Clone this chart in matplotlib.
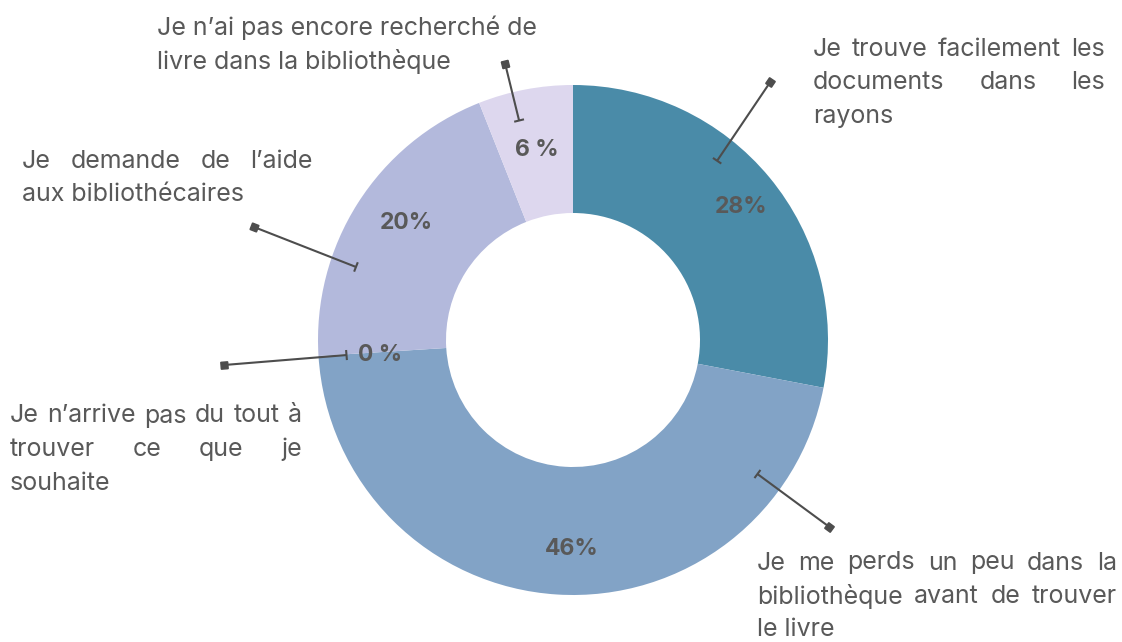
import matplotlib
matplotlib.use("Agg")
import matplotlib.pyplot as plt
import numpy as np

# ---- data ----
categories = [
    "Je trouve facilement les documents dans les rayons",
    "Je me perds un peu dans la bibliothèque avant de trouver le livre",
    "Je n’arrive pas du tout à trouver ce que je souhaite",
    "Je demande de l’aide aux bibliothécaires",
    "Je n’ai pas encore recherché de livre dans la bibliothèque",
]
values = [28, 46, 0, 20, 6]
pct_labels = ["28%", "46%", "0 %", "20%", "6 %"]
label_lines = [
    ["Je trouve facilement les", "documents dans les", "rayons"],
    ["Je me perds un peu dans la", "bibliothèque avant de trouver", "le livre"],
    ["Je n’arrive pas du tout à", "trouver ce que je", "souhaite"],
    ["Je demande de l’aide", "aux bibliothécaires"],
    ["Je n’ai pas encore recherché de", "livre dans la bibliothèque"],
]
colors = ["#4a8ba8", "#82a3c6", "#82a3c6", "#b3b9dc", "#ddd7ee"]

# ---- layout (pixels, y from top) ----
W, H = 1122, 642
CX, CY = 573, 340
R_OUT, R_IN = 255, 127
# text blocks: (x_left, x_right or None, first line center y)
blocks = [(813, 1105, 49), (757, 1117, 563), (10, 302, 416), (22, 313, 161), (157, None, 28)]
LINE_H = 33.5
pct_pos = [(0.84, -1.2), (0.82, 3.3), (0.76, 0.9), (0.80, -2.7), (0.76, 0.0)]
leaders = [((51.2, 230), (52.6, 325)), ((-36.0, 228), (-36.1, 317)),
           ((-176.2, 227), (-175.9, 350)), ((161.4, 229), (160.5, 338)),
           ((103.8, 226), (103.8, 284))]

TEXT_C = "#595959"
plt.rcParams['font.family'] = ['Inter', 'DejaVu Sans']

fig = plt.figure(figsize=(W / 100, H / 100), dpi=100)
ax = fig.add_axes([0, 0, 1, 1])
wedges, _ = ax.pie(values, colors=colors, startangle=90, counterclock=False,
                   radius=R_OUT, center=(CX, H - CY),
                   wedgeprops=dict(width=R_OUT - R_IN, edgecolor='none'))
ax.set_xlim(0, W)
ax.set_ylim(0, H)
ax.set_aspect('equal')
ax.axis('off')

def polar(a, r):
    t = np.deg2rad(a)
    return CX + r * np.cos(t), (H - CY) + r * np.sin(t)

# percentage labels
for w, lab, (rf, da) in zip(wedges, pct_labels, pct_pos):
    mid = (w.theta1 + w.theta2) / 2 + da
    x, y = polar(mid, R_OUT * rf)
    ax.text(x, y, lab, ha='center', va='center', fontsize=16.5, fontweight='bold', color=TEXT_C)

# leader lines
LC = "#4d4d4d"
for (a1, r1), (a2, r2) in leaders:
    x1, y1 = polar(a1, r1)
    x2, y2 = polar(a2, r2)
    ax.plot([x1, x2], [y1, y2], color=LC, lw=1.5, solid_capstyle='butt')
    d = np.array([x2 - x1, y2 - y1]); d /= np.linalg.norm(d)
    p = np.array([-d[1], d[0]]) * 4
    ax.plot([x1 - p[0], x1 + p[0]], [y1 - p[1], y1 + p[1]], color=LC, lw=1.5)
    ang = np.degrees(np.arctan2(d[1], d[0]))
    ax.plot([x2], [y2], marker=(4, 0, 45 + ang), markersize=7, color=LC, mec=LC)

# justified text blocks
renderer = fig.canvas.get_renderer()
FS = 18

def width_of(s):
    t = ax.text(0, 0, s, fontsize=FS)
    wpx = t.get_window_extent(renderer).width
    t.remove()
    return wpx

for lines, (xl, xr, y0) in zip(label_lines, blocks):
    for i, line in enumerate(lines):
        y = H - (y0 + i * LINE_H)
        words = line.split(" ")
        last = (i == len(lines) - 1)
        if xr is None or last or len(words) == 1:
            ax.text(xl, y, line, fontsize=FS, color=TEXT_C, ha='left', va='center')
            continue
        ws = [width_of(wd) for wd in words]
        gap = (xr - xl - sum(ws)) / (len(words) - 1)
        x = xl
        for wd, wpx in zip(words, ws):
            ax.text(x, y, wd, fontsize=FS, color=TEXT_C, ha='left', va='center')
            x += wpx + gap

fig.savefig("out.png", dpi=100, facecolor='white')
